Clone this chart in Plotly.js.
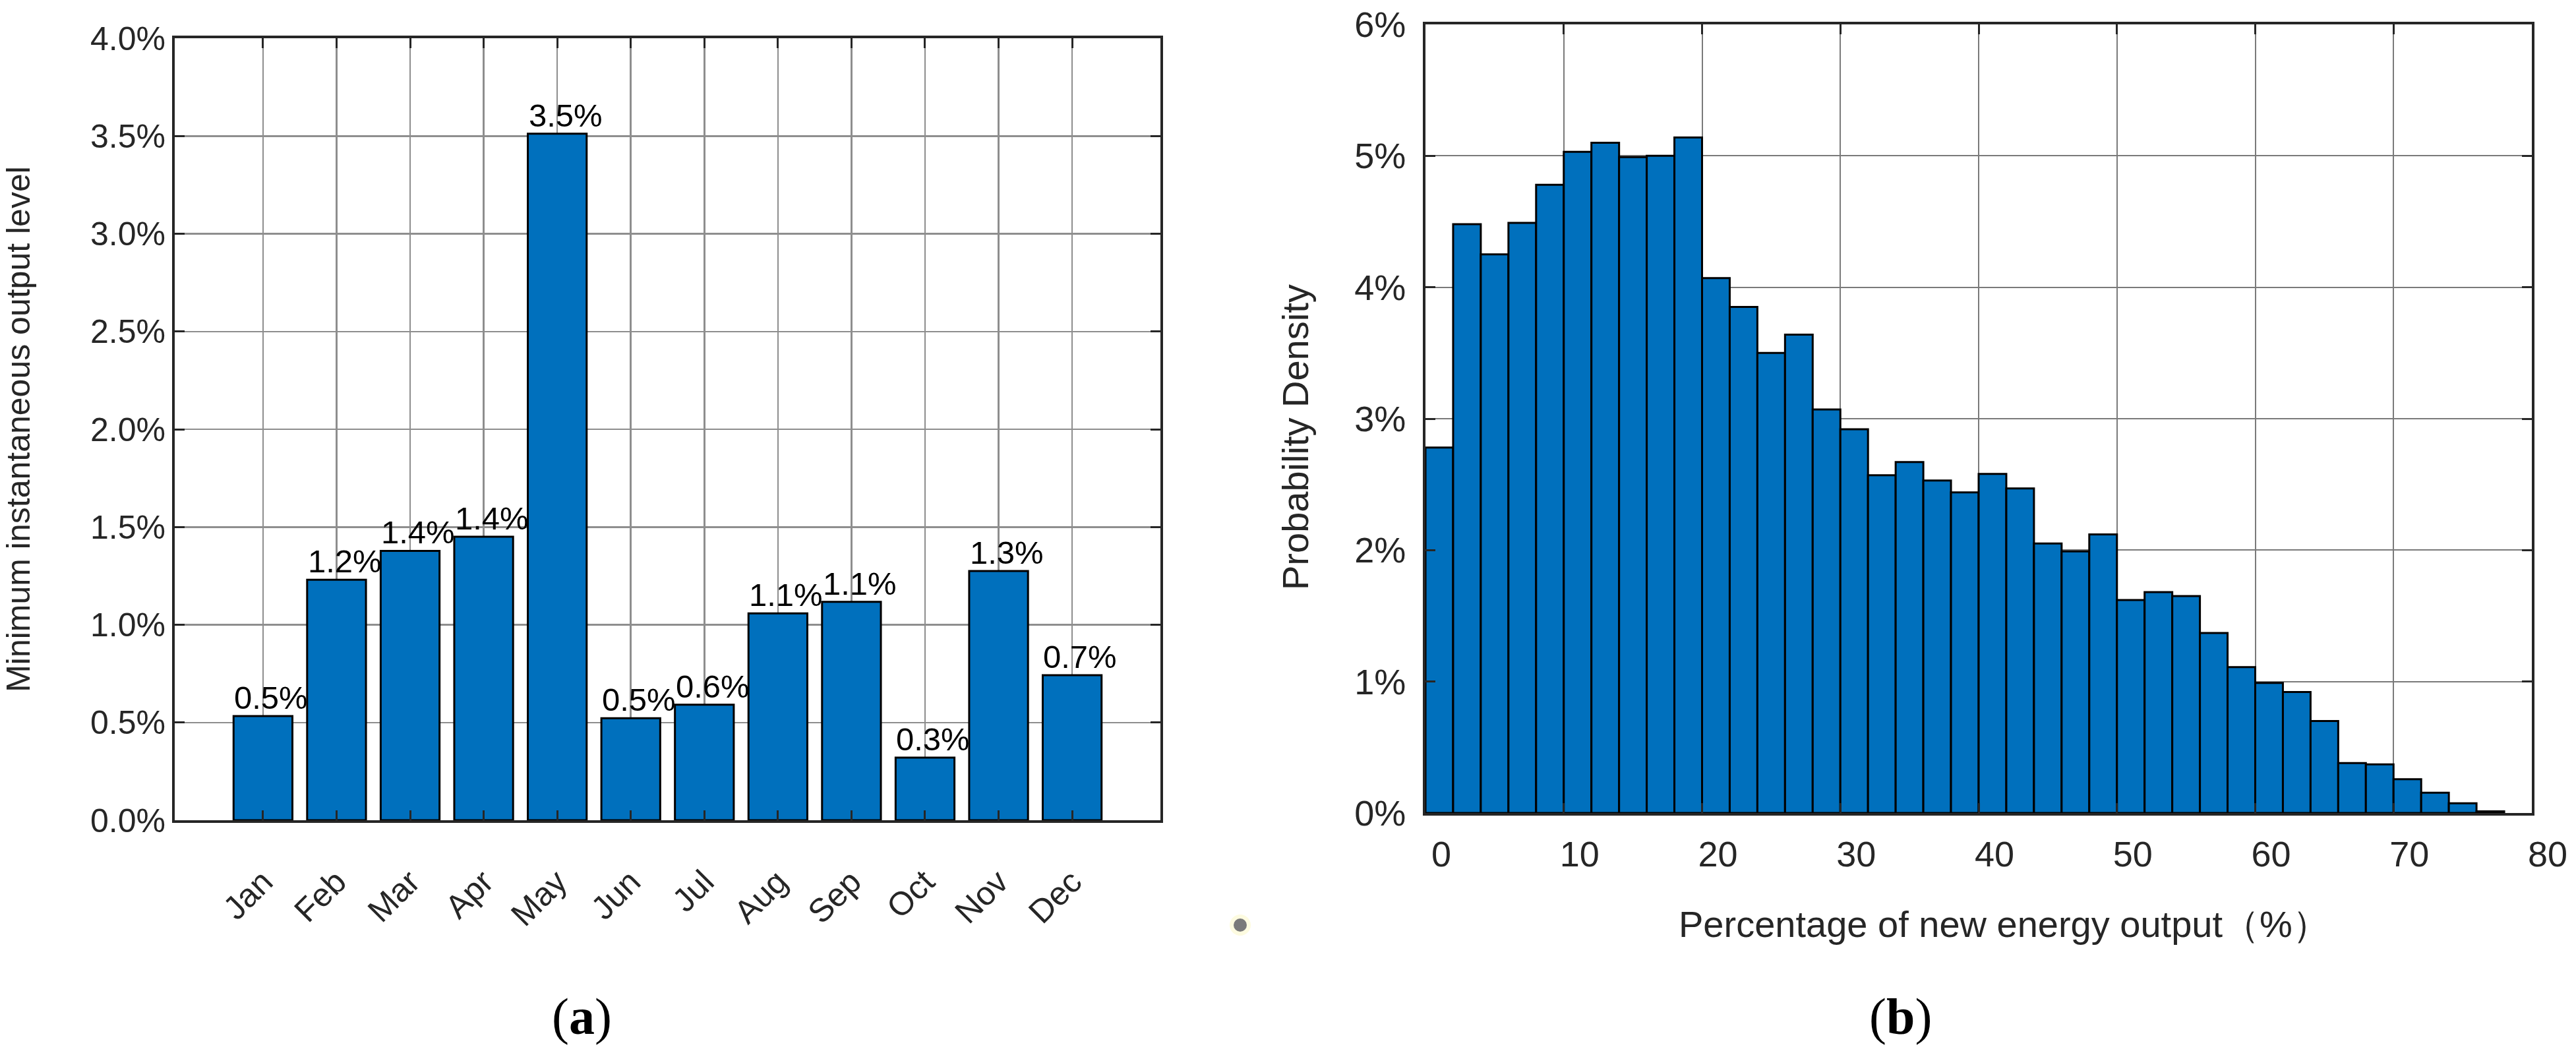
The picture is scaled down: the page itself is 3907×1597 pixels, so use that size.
<!DOCTYPE html>
<html>
<head>
<meta charset="utf-8">
<script src="https://cdn.plot.ly/plotly-3.0.1.min.js"></script>
<style>
  html, body { margin: 0; padding: 0; background: #fff; }
  #chart { width: 3907px; height: 1597px; }
</style>
</head>
<body>
<div id="chart"></div>
<script>
// ── (a) monthly minimum instantaneous output level, in % ──
const months = ['Jan', 'Feb', 'Mar', 'Apr', 'May', 'Jun', 'Jul', 'Aug', 'Sep', 'Oct', 'Nov', 'Dec'];
const minOutput = [0.533, 1.230, 1.378, 1.450, 3.512, 0.522, 0.591, 1.058, 1.117, 0.320, 1.275, 0.742];
const minOutputLabels = ['0.5%', '1.2%', '1.4%', '1.4%', '3.5%', '0.5%', '0.6%', '1.1%', '1.1%', '0.3%', '1.3%', '0.7%'];
const yTicksA = [0, 0.5, 1, 1.5, 2, 2.5, 3, 3.5, 4];
const yTickTextA = ['0.0%', '0.5%', '1.0%', '1.5%', '2.0%', '2.5%', '3.0%', '3.5%', '4.0%'];

// ── (b) histogram of new energy output share, 2 % bins ──
const binCenters = [1, 3, 5, 7, 9, 11, 13, 15, 17, 19, 21, 23, 25, 27, 29, 31, 33, 35, 37, 39,
                    41, 43, 45, 47, 49, 51, 53, 55, 57, 59, 61, 63, 65, 67, 69, 71, 73, 75, 77];
const density = [2.78, 4.48, 4.25, 4.49, 4.78, 5.03, 5.10, 4.99, 5.00, 5.14,
                 4.07, 3.85, 3.50, 3.64, 3.07, 2.92, 2.57, 2.67, 2.53, 2.44,
                 2.58, 2.47, 2.05, 1.99, 2.12, 1.62, 1.68, 1.65, 1.37, 1.11,
                 0.99, 0.92, 0.70, 0.38, 0.37, 0.257, 0.154, 0.074, 0.012];
const xTicksB = [0, 10, 20, 30, 40, 50, 60, 70, 80];
const yTicksB = [0, 1, 2, 3, 4, 5, 6];
const yTickTextB = ['0%', '1%', '2%', '3%', '4%', '5%', '6%'];

const W = 3907, H = 1597;
const INK = '#262626';
const BAR = '#0070bd';
const SANS = 'Liberation Sans, Arial, sans-serif';
const SERIF = 'Liberation Serif, Times New Roman, serif';

// MATLAB-ish boxed axes
function boxAxis(extra) {
    return Object.assign({
        showline: true, linecolor: INK, linewidth: 4, mirror: 'ticks',
        ticks: 'inside', ticklen: 15, tickwidth: 3, tickcolor: INK,
        showgrid: true, gridcolor: '#8e8e8e', gridwidth: 2.5,
        zeroline: false, fixedrange: true,
        tickfont: { family: SANS, size: 50, color: INK }
    }, extra);
}

const data = [
    { type: 'bar', x: months.map((m, i) => i), y: minOutput, width: 0.8,
      marker: { color: BAR, line: { color: '#000', width: 3 } },
      xaxis: 'x', yaxis: 'y', hoverinfo: 'none' },
    { type: 'bar', x: binCenters, y: density, width: 2,
      marker: { color: BAR, line: { color: '#000', width: 3 } },
      xaxis: 'x2', yaxis: 'y2', hoverinfo: 'none' }
];

// value labels start at the bar's left edge
const annotations = minOutput.map((v, i) => ({
    x: i - 0.4, y: v, xref: 'x', yref: 'y', text: minOutputLabels[i],
    xanchor: 'left', yanchor: 'bottom', showarrow: false, borderpad: 0,
    font: { family: SANS, size: 49, color: '#000' }
}));
annotations.push(
    // panel (b) titles sit a bit off-centre in the source, so place them by hand
    { x: 3039 / W, y: 1 - 1401 / H, xref: 'paper', yref: 'paper',
      text: 'Percentage of new energy output（%）', showarrow: false,
      xanchor: 'center', yanchor: 'middle',
      font: { family: SANS, size: 56, color: INK } },
    { x: 1964 / W, y: 1 - 663 / H, xref: 'paper', yref: 'paper',
      text: 'Probability Density', textangle: -90, showarrow: false,
      xanchor: 'center', yanchor: 'middle',
      font: { family: SANS, size: 56, color: INK } },
    { x: 882 / W, y: 1 - 1541 / H, xref: 'paper', yref: 'paper', text: '(<b>a</b>)',
      showarrow: false, xanchor: 'center', yanchor: 'middle',
      font: { family: SERIF, size: 78, color: '#000' } },
    { x: 2882 / W, y: 1 - 1541 / H, xref: 'paper', yref: 'paper', text: '(<b>b</b>)',
      showarrow: false, xanchor: 'center', yanchor: 'middle',
      font: { family: SERIF, size: 78, color: '#000' } }
);

const layout = {
    width: W, height: H,
    margin: { l: 0, r: 0, t: 0, b: 0 },
    paper_bgcolor: '#fff', plot_bgcolor: '#fff',
    showlegend: false,
    xaxis: boxAxis({
        domain: [265 / W, 1760 / W], anchor: 'y',
        range: [-1.2, 12.2], tickmode: 'array', tickvals: months.map((m, i) => i), ticktext: months,
        tickangle: -45, ticklabelstandoff: 40
    }),
    yaxis: boxAxis({
        domain: [1 - 1244 / H, 1 - 58 / H], anchor: 'x',
        range: [0, 4], tickmode: 'array', tickvals: yTicksA, ticktext: yTickTextA,
        ticklabelstandoff: 0,
        title: { text: 'Minimum instantaneous output level', standoff: 88,
                 font: { family: SANS, size: 50, color: INK } }
    }),
    xaxis2: boxAxis({
        domain: [2162 / W, 3840 / W], anchor: 'y2',
        range: [0, 80], tickmode: 'array', tickvals: xTicksB,
        gridcolor: '#7a7a7a', gridwidth: 2,
        tickfont: { family: SANS, size: 54, color: INK },
        ticklabelstandoff: 12, ticklabelshift: 24
    }),
    yaxis2: boxAxis({
        domain: [1 - 1233 / H, 1 - 37 / H], anchor: 'x2',
        range: [0, 6], tickmode: 'array', tickvals: yTicksB, ticktext: yTickTextB,
        gridcolor: '#7a7a7a', gridwidth: 2,
        tickfont: { family: SANS, size: 54, color: INK },
        ticklabelstandoff: 15
    }),
    annotations: annotations,
    shapes: [
        // stray dot between the panels in the source figure
        { type: 'circle', xref: 'paper', yref: 'paper', layer: 'above',
          x0: 1865 / W, x1: 1897 / W, y0: 1 - 1419 / H, y1: 1 - 1387 / H,
          fillcolor: '#fdfbe0', line: { width: 0 } },
        { type: 'circle', xref: 'paper', yref: 'paper', layer: 'above',
          x0: 1871 / W, x1: 1891 / W, y0: 1 - 1413 / H, y1: 1 - 1393 / H,
          fillcolor: '#7a7a7a', line: { width: 0 } }
    ]
};

Plotly.newPlot('chart', data, layout, { staticPlot: true, displayModeBar: false });
</script>
</body>
</html>
